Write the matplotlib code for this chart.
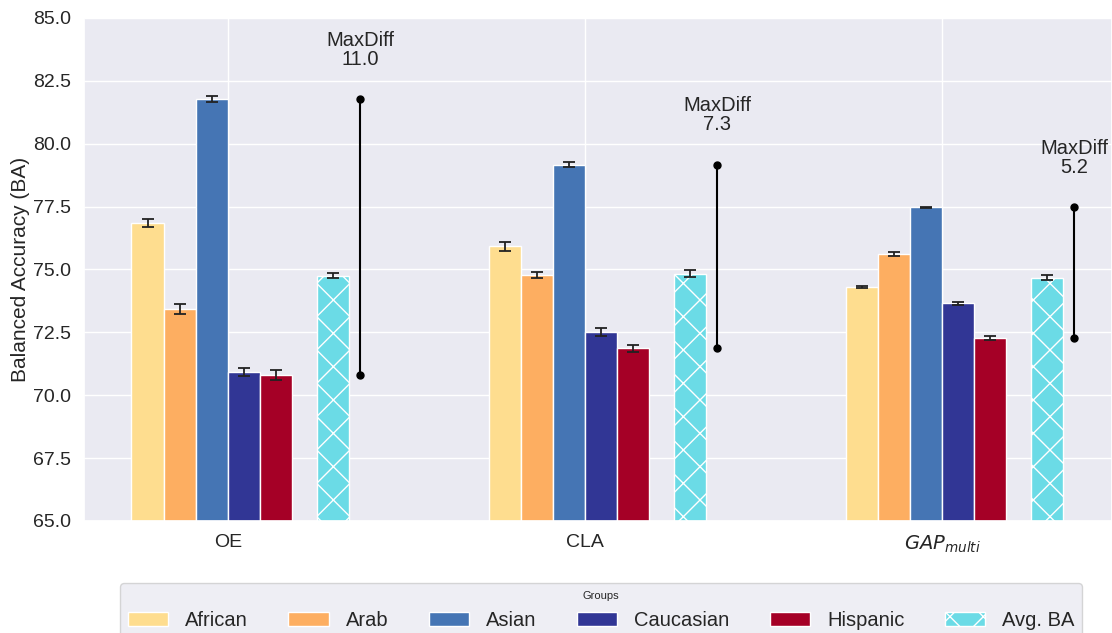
import numpy as np
import matplotlib
matplotlib.use('Agg')
import matplotlib.pyplot as plt
import seaborn as sns

sns.set_theme(style='darkgrid')
plt.rcParams['font.family'] = ['Liberation Sans', 'DejaVu Sans']
plt.rcParams['hatch.color'] = 'white'
plt.rcParams['hatch.linewidth'] = 1.0

methods = ['OE', 'CLA', r'$GAP_{multi}$']
groups = ['African', 'Arab', 'Asian', 'Caucasian', 'Hispanic']
colors = ['#fedd8f', '#fdae61', '#4575b4', '#313695', '#a50026']
avg_color = '#6bdbe6'

ba = {
    'African':   [76.85, 75.92, 74.30],
    'Arab':      [73.42, 74.80, 75.62],
    'Asian':     [81.78, 79.17, 77.47],
    'Caucasian': [70.92, 72.52, 73.66],
    'Hispanic':  [70.80, 71.86, 72.28],
}
err = {
    'African':   [0.15, 0.17, 0.05],
    'Arab':      [0.20, 0.12, 0.07],
    'Asian':     [0.12, 0.10, 0.03],
    'Caucasian': [0.17, 0.17, 0.06],
    'Hispanic':  [0.20, 0.14, 0.09],
}
avg_ba = [74.75, 74.84, 74.68]
avg_err = [0.10, 0.15, 0.10]
max_diff = [11.0, 7.3, 5.2]

fig = plt.figure(figsize=(11.12, 6.33), dpi=100)
ax = fig.add_axes([84 / 1112, 1 - 521 / 633, 1 - 84 / 1112, 503 / 633])

x = np.arange(len(methods))
w = 0.09
offsets = [-2.5 * w, -1.5 * w, -0.5 * w, 0.5 * w, 1.5 * w]
ekw = dict(ecolor='#222222', capsize=4, elinewidth=1.3, capthick=1.3)
for g, c, off in zip(groups, colors, offsets):
    ax.bar(x + off, ba[g], w, yerr=err[g], color=c, label=g,
           edgecolor='white', linewidth=1, error_kw=ekw)
ax.bar(x + 0.295, avg_ba, w, yerr=avg_err, color=avg_color, hatch='x', label='Avg. BA',
       edgecolor='white', linewidth=1, error_kw=ekw)

# max-min line per method
for i in range(len(methods)):
    vals = [ba[g][i] for g in groups]
    hi, lo = max(vals), min(vals)
    xl = x[i] + 0.37
    ax.plot([xl, xl], [lo, hi], color='black', lw=1.5, marker='o', ms=5)
    ax.text(xl, hi + 1.2, 'MaxDiff\n{:.1f}'.format(max_diff[i]), ha='center', va='bottom',
            fontsize=14.5, color='#262626', linespacing=1.0)

ax.set_ylim(65, 85)
ax.set_xlim(-0.403, 2.476)
ax.set_yticks(np.arange(65, 85.1, 2.5))
ax.set_xticks(x)
ax.set_xticklabels(methods, fontsize=14)
ax.tick_params(axis='y', labelsize=14)
ax.set_ylabel('Balanced Accuracy (BA)', fontsize=15, labelpad=2)

ax.legend(title='Groups', ncol=6, loc='upper center', bbox_to_anchor=(0.503, -0.123),
          borderaxespad=0, fontsize=14.5, title_fontsize=8, frameon=True,
          handlelength=2.0, handletextpad=0.85, columnspacing=2.0,
          facecolor='#eaeaf2', edgecolor='#cccccc')

fig.savefig('out.png', dpi=100)
